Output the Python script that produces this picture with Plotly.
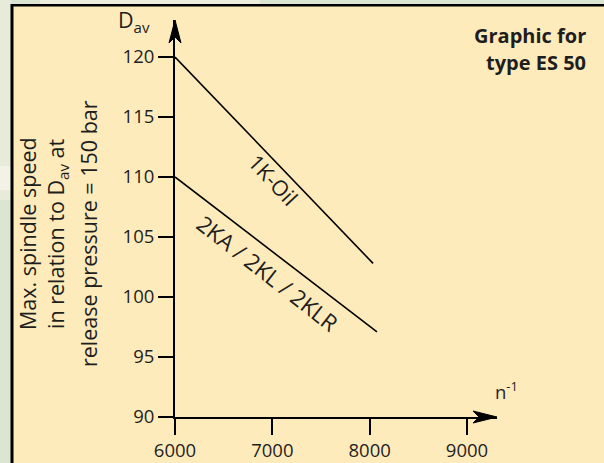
import plotly.graph_objects as go

# speed curves (n^-1 vs D_av)
oil_x = [6000, 8035]
oil_y = [120, 102.8]
ka_x = [6000, 8075]
ka_y = [110, 97.1]

x_ticks = [6000, 7000, 8000, 9000]
y_ticks = [90, 95, 100, 105, 110, 115, 120]

W, H = 604, 463
L, R, T, B = 175, 497, 20, 417       # plot area in pixels
x_scale = (467 - 175) / 3000         # px per n^-1 unit
y_scale = 12                         # px per D_av unit

TXT = "#1e1e1e"
FONT = "Open Sans"


def px(x):
    return (x - L) / (R - L)


def py(y):
    return (B - y) / (B - T)


fig = go.Figure()

fig.add_trace(go.Scatter(x=oil_x, y=oil_y, mode="lines",
                         line=dict(color="black", width=1.6), showlegend=False))
fig.add_trace(go.Scatter(x=ka_x, y=ka_y, mode="lines",
                         line=dict(color="black", width=1.6), showlegend=False))

shapes = [
    # light swoosh in the green frame
    dict(type="rect", xref="paper", yref="paper", x0=px(0), x1=px(11), y0=py(0), y1=py(200),
         fillcolor="#e7ebda", line_width=0, layer="below"),
    dict(type="rect", xref="paper", yref="paper", x0=px(0), x1=px(11), y0=py(166), y1=py(190),
         fillcolor="#f3f2e6", line_width=0, layer="below"),
    dict(type="rect", xref="paper", yref="paper", x0=px(40), x1=px(260), y0=py(0), y1=py(5),
         fillcolor="#eeeee0", line_width=0, layer="below"),
    # beige panel
    dict(type="rect", xref="paper", yref="paper", x0=px(12), x1=px(W), y0=py(5), y1=py(H),
         fillcolor="#feebbb", line_width=0, layer="below"),
    dict(type="line", xref="paper", yref="paper", x0=px(12), x1=px(12), y0=py(4), y1=py(H),
         line=dict(color="black", width=3), layer="below"),
    dict(type="line", xref="paper", yref="paper", x0=px(11), x1=px(W), y0=py(5.3), y1=py(5.3),
         line=dict(color="black", width=2.6), layer="below"),
    # axis arrowheads
    dict(type="path", xref="paper", yref="paper", xsizemode="pixel", ysizemode="pixel",
         xanchor=0, yanchor=1, path="M0,0 L-6,-23 L0,-17 L6,-23 Z",
         fillcolor="black", line=dict(color="black", width=1)),
    dict(type="path", xref="paper", yref="paper", xsizemode="pixel", ysizemode="pixel",
         xanchor=1, yanchor=0, path="M0,0 L-24,6 L-18,0 L-24,-6 Z",
         fillcolor="black", line=dict(color="black", width=1)),
]

tick_font = dict(family=FONT, size=18.5, color=TXT)
big_font = dict(family=FONT, size=21.5, color=TXT)
bold_font = dict(family=FONT, size=20, color=TXT)
annotations = [
    dict(text="Max. spindle speed", x=px(27), y=py(234), textangle=-90),
    dict(text="in relation to D<sub>av</sub> at", x=px(57), y=py(234), textangle=-90),
    dict(text="release pressure = 150 bar", x=px(88), y=py(234), textangle=-90),
    dict(text="D<sub>av</sub>", x=px(134), y=py(21)),
    dict(text="n<sup>-1</sup>", x=px(506), y=py(390), font=tick_font),
    dict(text="<b>Graphic for</b>", x=px(588), y=py(35.5), xanchor="right", font=bold_font),
    dict(text="<b>type ES 50</b>", x=px(588), y=py(63), xanchor="right", font=bold_font),
    dict(text="1K-Oil", x=px(273), y=py(180), textangle=47),
    dict(text="2KA / 2KL / 2KLR", x=px(268), y=py(273), textangle=38,
         font=dict(family=FONT, size=22.5, color=TXT)),
]
for a in annotations:
    a.setdefault("xanchor", "center")
    a.setdefault("font", big_font)
    a.update(xref="paper", yref="paper", yanchor="middle", showarrow=False)

fig.update_layout(
    width=W, height=H,
    margin=dict(l=L, r=W - R, t=T, b=H - B, pad=0),
    paper_bgcolor="#dce5d1",
    plot_bgcolor="rgba(0,0,0,0)",
    shapes=shapes,
    annotations=annotations,
    xaxis=dict(range=[6000, 6000 + (R - L) / x_scale], tickvals=x_ticks,
               showgrid=False, zeroline=False, showline=True, linecolor="black", linewidth=2,
               ticks="outside", ticklen=16, tickwidth=1.6, tickcolor="black",
               tickfont=tick_font, automargin=False),
    yaxis=dict(range=[90, 90 + (B - T) / y_scale], tickvals=y_ticks,
               showgrid=False, zeroline=False, showline=True, linecolor="black", linewidth=2,
               ticks="outside", ticklen=15, tickwidth=1.6, tickcolor="black",
               tickfont=tick_font, automargin=False),
)

fig.write_html("out.html", config={"displayModeBar": False},
               post_script="document.body.style.margin='0';")
